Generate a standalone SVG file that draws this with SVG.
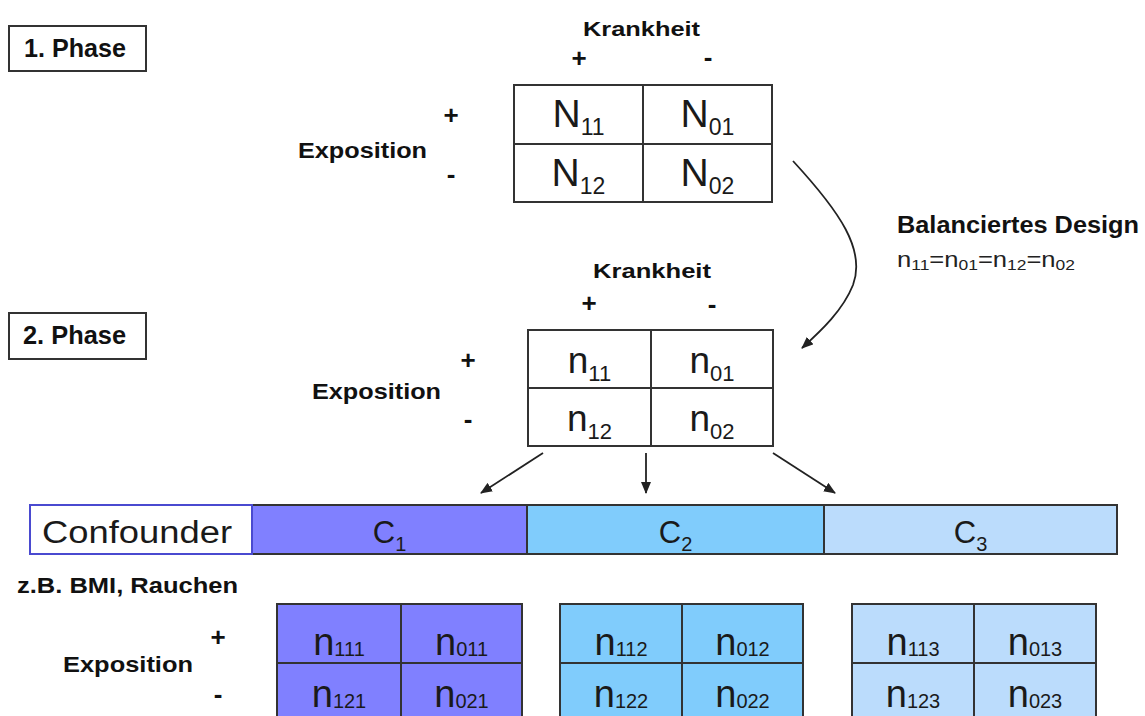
<svg xmlns="http://www.w3.org/2000/svg" width="1145" height="716" viewBox="0 0 1145 716">
<style>
.lbl{font-family:"Liberation Sans",Arial,sans-serif;font-weight:bold;fill:#111;}
.sign{font-family:"Liberation Sans",Arial,sans-serif;font-weight:bold;font-size:26px;fill:#111;text-anchor:middle;}
.cell{font-family:"Liberation Sans",Arial,sans-serif;fill:#1a1a1a;text-anchor:middle;}
.box{fill:#fff;stroke:#333;stroke-width:2;}
.tbl{stroke:#333;stroke-width:2;}
.grid{stroke:#333;stroke-width:2;fill:none;}
.conn{stroke:#222;stroke-width:1.8;fill:none;marker-end:url(#ah);}
</style>
<defs>
<marker id="ah" viewBox="0 0 12 10" refX="11" refY="5" markerWidth="12" markerHeight="10" markerUnits="userSpaceOnUse" orient="auto">
<path d="M0,0 L12,5 L0,10 z" fill="#222"/>
</marker>
</defs>
<rect width="1145" height="716" fill="#fff"/>

<g id="phase1">
<rect class="box" x="9" y="26" width="137" height="45"/>
<text class="lbl" x="24" y="57" font-size="26" textLength="102" lengthAdjust="spacingAndGlyphs">1. Phase</text>
</g>

<g id="phase2">
<rect class="box" x="9" y="313" width="137" height="46"/>
<text class="lbl" x="23" y="344" font-size="26" textLength="103" lengthAdjust="spacingAndGlyphs">2. Phase</text>
</g>

<g id="table1">
<text class="lbl" x="583" y="36" font-size="21" textLength="117" lengthAdjust="spacingAndGlyphs">Krankheit</text>
<text class="sign" x="579" y="67">+</text>
<text class="sign" x="708" y="66">-</text>
<text class="sign" x="451" y="124">+</text>
<text class="sign" x="451" y="183">-</text>
<text class="lbl" x="298" y="158" font-size="22" textLength="129" lengthAdjust="spacingAndGlyphs">Exposition</text>
<rect class="tbl" x="514" y="85" width="258" height="117" fill="#fff"/>
<line class="grid" x1="643" y1="85" x2="643" y2="202"/>
<line class="grid" x1="514" y1="144" x2="772" y2="144"/>
<text class="cell" x="578.5" y="127" font-size="39">N<tspan font-size="23" dy="8">11</tspan></text>
<text class="cell" x="707.5" y="127" font-size="39">N<tspan font-size="23" dy="8">01</tspan></text>
<text class="cell" x="578.5" y="186" font-size="39">N<tspan font-size="23" dy="8">12</tspan></text>
<text class="cell" x="707.5" y="186" font-size="39">N<tspan font-size="23" dy="8">02</tspan></text>
</g>

<g id="balanced">
<text class="lbl" x="897" y="233" font-size="23" textLength="242" lengthAdjust="spacingAndGlyphs">Balanciertes Design</text>
<text x="897" y="267" font-family="Liberation Sans, Arial, sans-serif" font-size="22" fill="#222" textLength="178" lengthAdjust="spacingAndGlyphs">n<tspan font-size="15" dy="3">11</tspan><tspan dy="-3">=n</tspan><tspan font-size="15" dy="3">01</tspan><tspan dy="-3">=n</tspan><tspan font-size="15" dy="3">12</tspan><tspan dy="-3">=n</tspan><tspan font-size="15" dy="3">02</tspan></text>
</g>

<g id="table2">
<text class="lbl" x="593" y="278" font-size="21" textLength="118" lengthAdjust="spacingAndGlyphs">Krankheit</text>
<text class="sign" x="589" y="312">+</text>
<text class="sign" x="712" y="313">-</text>
<text class="sign" x="468" y="369">+</text>
<text class="sign" x="468" y="428">-</text>
<text class="lbl" x="312" y="399" font-size="22" textLength="129" lengthAdjust="spacingAndGlyphs">Exposition</text>
<rect class="tbl" x="528" y="330" width="245" height="116" fill="#fff"/>
<line class="grid" x1="651" y1="330" x2="651" y2="446"/>
<line class="grid" x1="528" y1="388" x2="773" y2="388"/>
<text class="cell" x="589.5" y="373" font-size="37">n<tspan font-size="22" dy="8">11</tspan></text>
<text class="cell" x="712" y="373" font-size="37">n<tspan font-size="22" dy="8">01</tspan></text>
<text class="cell" x="589.5" y="431" font-size="37">n<tspan font-size="22" dy="8">12</tspan></text>
<text class="cell" x="712" y="431" font-size="37">n<tspan font-size="22" dy="8">02</tspan></text>
</g>

<g id="confounder-bar">
<rect x="252" y="505" width="275" height="49" fill="#8080ff" stroke="#333" stroke-width="2"/>
<rect x="527" y="505" width="297" height="49" fill="#80ccfc" stroke="#333" stroke-width="2"/>
<rect x="824" y="505" width="293" height="49" fill="#bbdcfc" stroke="#333" stroke-width="2"/>
<rect x="30" y="505" width="222" height="49" fill="#fff" stroke="#4a4ad0" stroke-width="2"/>
<text x="42" y="543" font-family="Liberation Sans, Arial, sans-serif" font-size="31" fill="#1a1a1a" textLength="190" lengthAdjust="spacingAndGlyphs">Confounder</text>
<text class="cell" x="389.5" y="543" font-size="31">C<tspan font-size="20" dy="8">1</tspan></text>
<text class="cell" x="675.5" y="543" font-size="31">C<tspan font-size="20" dy="8">2</tspan></text>
<text class="cell" x="970.5" y="543" font-size="31">C<tspan font-size="20" dy="8">3</tspan></text>
</g>

<g id="example">
<text class="lbl" x="17" y="593" font-size="22" textLength="221" lengthAdjust="spacingAndGlyphs">z.B. BMI, Rauchen</text>
<text class="sign" x="218" y="646">+</text>
<text class="sign" x="218" y="703">-</text>
<text class="lbl" x="63" y="672" font-size="22" textLength="130" lengthAdjust="spacingAndGlyphs">Exposition</text>
</g>

<g id="tableC1">
<rect class="tbl" x="277" y="604" width="245" height="118" fill="#8080ff"/>
<line class="grid" x1="401" y1="604" x2="401" y2="722"/>
<line class="grid" x1="277" y1="663" x2="522" y2="663"/>
<text class="cell" x="339" y="655" font-size="38">n<tspan font-size="20" dy="1">111</tspan></text>
<text class="cell" x="461.5" y="655" font-size="38">n<tspan font-size="20" dy="1">011</tspan></text>
<text class="cell" x="339" y="707" font-size="38">n<tspan font-size="20" dy="1">121</tspan></text>
<text class="cell" x="461.5" y="707" font-size="38">n<tspan font-size="20" dy="1">021</tspan></text>
</g>

<g id="tableC2">
<rect class="tbl" x="560" y="604" width="243" height="118" fill="#80ccfc"/>
<line class="grid" x1="682" y1="604" x2="682" y2="722"/>
<line class="grid" x1="560" y1="663" x2="803" y2="663"/>
<text class="cell" x="621" y="655" font-size="38">n<tspan font-size="20" dy="1">112</tspan></text>
<text class="cell" x="742.5" y="655" font-size="38">n<tspan font-size="20" dy="1">012</tspan></text>
<text class="cell" x="621" y="707" font-size="38">n<tspan font-size="20" dy="1">122</tspan></text>
<text class="cell" x="742.5" y="707" font-size="38">n<tspan font-size="20" dy="1">022</tspan></text>
</g>

<g id="tableC3">
<rect class="tbl" x="852" y="604" width="244" height="118" fill="#bbdcfc"/>
<line class="grid" x1="974" y1="604" x2="974" y2="722"/>
<line class="grid" x1="852" y1="663" x2="1096" y2="663"/>
<text class="cell" x="913" y="655" font-size="38">n<tspan font-size="20" dy="1">113</tspan></text>
<text class="cell" x="1035" y="655" font-size="38">n<tspan font-size="20" dy="1">013</tspan></text>
<text class="cell" x="913" y="707" font-size="38">n<tspan font-size="20" dy="1">123</tspan></text>
<text class="cell" x="1035" y="707" font-size="38">n<tspan font-size="20" dy="1">023</tspan></text>
</g>

<g id="connectors">
<path class="conn" d="M793,161 C840,212 866,250 853,285 C843,310 822,330 802,348"/>
<line class="conn" x1="543" y1="453" x2="481" y2="493"/>
<line class="conn" x1="646" y1="453" x2="646" y2="493"/>
<line class="conn" x1="773" y1="453" x2="835" y2="493"/>
</g>
</svg>
